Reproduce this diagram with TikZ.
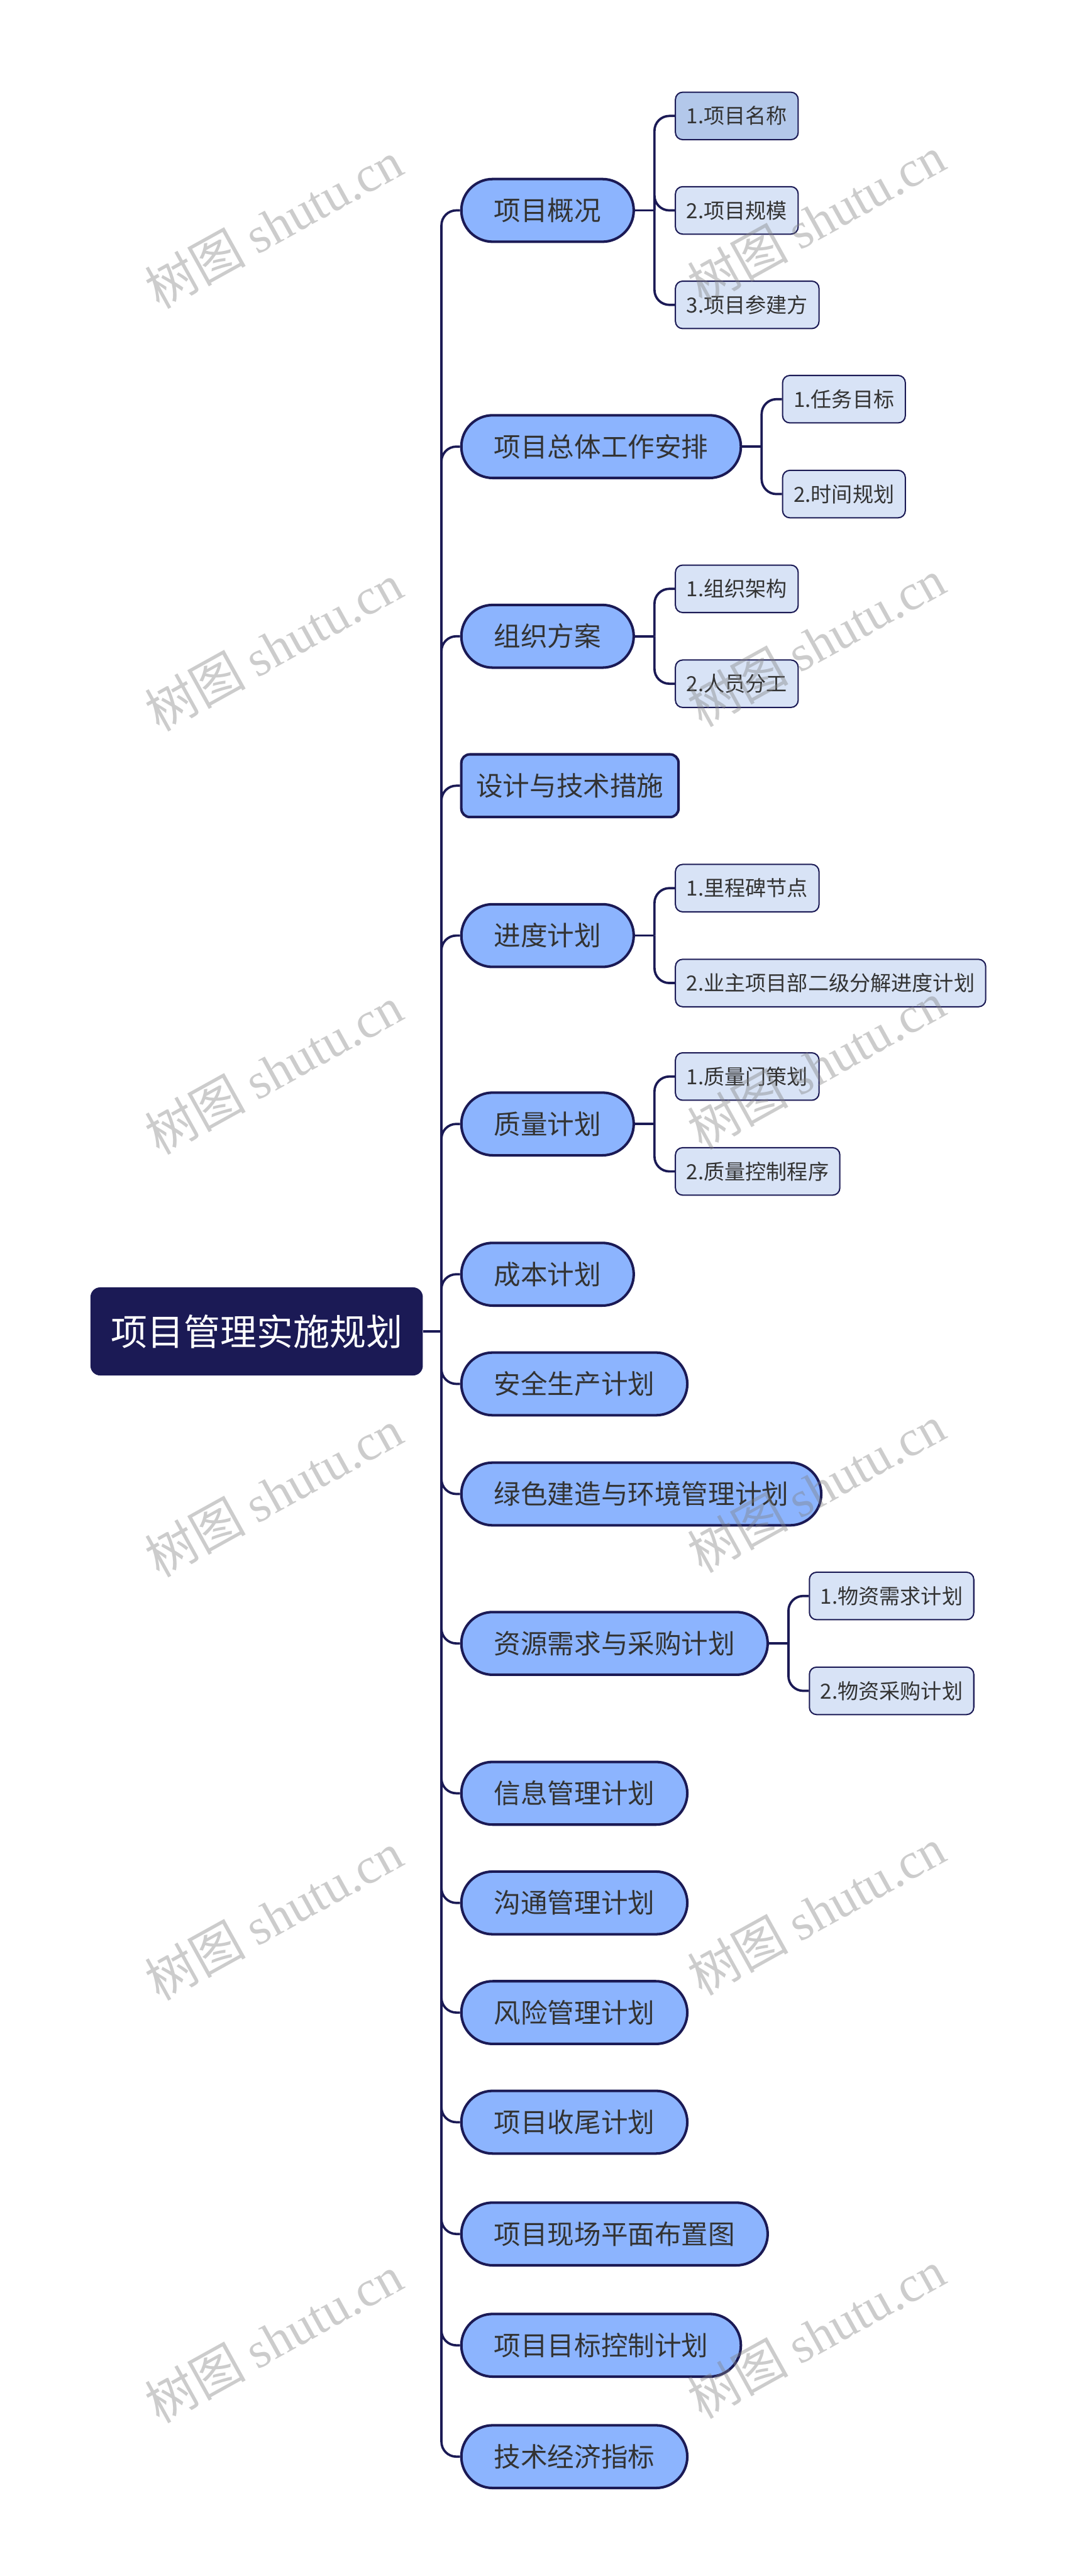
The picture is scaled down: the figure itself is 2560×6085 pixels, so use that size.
\documentclass[tikz,border=0pt]{standalone}
\usepackage{fontspec}
\setmainfont{Noto Sans CJK SC}
\newfontfamily\wmlatin{Liberation Serif}
\usetikzlibrary{positioning}
\definecolor{navy}{HTML}{1B1A55}
\definecolor{topicfill}{HTML}{8CB4FE}
\definecolor{leaffill}{HTML}{D8E3F6}
\definecolor{leafsel}{HTML}{B3C8EA}
\definecolor{txt}{HTML}{333333}

\begin{document}
\begin{tikzpicture}[x=0.01cm,y=-0.01cm]
\useasboundingbox (0,0) rectangle (2560,6085);

\edef\topich{1.48cm}
\edef\leafh{1.12cm}
\tikzstyle{mainbox}=[fill=navy,text=white,rounded corners=.23cm,minimum height=2.08cm,inner xsep=.48cm,anchor=west,font=\fontsize{24.5}{28}\selectfont]
\tikzstyle{topic}=[draw=navy,line width=.6mm,fill=topicfill,text=txt,rounded corners=.74cm,minimum height=\topich,inner xsep=.77cm,anchor=west,font=\fontsize{18}{22}\selectfont]
\tikzstyle{topicbox}=[topic,rounded corners=.2cm,inner xsep=.35cm]
\tikzstyle{leaf}=[draw=navy,line width=.3mm,fill=leaffill,text=txt,rounded corners=.17cm,minimum height=\leafh,inner xsep=.26cm,font=\fontsize{14}{17}\selectfont]
\tikzstyle{link}=[draw=navy,line width=.55mm,rounded corners=.35cm]
\tikzstyle{wmark}=[text=black!50,text opacity=.4,rotate=29,font=\fontsize{34}{40}\selectfont]

%% root
\node [mainbox] (plan) at (213,3145) {项目管理实施规划};

%% main branches
\node [topic] (gk) at (1087,497) {项目概况};
\node [topic] (zt) at (1087,1055) {项目总体工作安排};
\node [topic] (zz) at (1087,1503) {组织方案};
\node [topicbox] (sj) at (1087,1856) {设计与技术措施};
\node [topic] (jd) at (1087,2210) {进度计划};
\node [topic] (zl) at (1087,2655) {质量计划};
\node [topic] (cb) at (1087,3010) {成本计划};
\node [topic] (aq) at (1087,3269) {安全生产计划};
\node [topic] (lv) at (1087,3529) {绿色建造与环境管理计划};
\node [topic] (zy) at (1087,3882) {资源需求与采购计划};
\node [topic] (xx) at (1087,4236) {信息管理计划};
\node [topic] (gt) at (1087,4495) {沟通管理计划};
\node [topic] (fx) at (1087,4754) {风险管理计划};
\node [topic] (sw) at (1087,5013) {项目收尾计划};
\node [topic] (xc) at (1087,5277) {项目现场平面布置图};
\node [topic] (mb) at (1087,5540) {项目目标控制计划};
\node [topic] (jj) at (1087,5803) {技术经济指标};

%% sub items
\node [leaf,fill=leafsel,right=.94cm of gk,yshift=2.23cm] (gk1) {1.项目名称};
\node [leaf,right=.94cm of gk] (gk2) {2.项目规模};
\node [leaf,right=.94cm of gk,yshift=-2.23cm] (gk3) {3.项目参建方};
\node [leaf,right=.94cm of zt,yshift=1.12cm] (zt1) {1.任务目标};
\node [leaf,right=.94cm of zt,yshift=-1.12cm] (zt2) {2.时间规划};
\node [leaf,right=.94cm of zz,yshift=1.12cm] (zz1) {1.组织架构};
\node [leaf,right=.94cm of zz,yshift=-1.12cm] (zz2) {2.人员分工};
\node [leaf,right=.94cm of jd,yshift=1.12cm] (jd1) {1.里程碑节点};
\node [leaf,right=.94cm of jd,yshift=-1.12cm] (jd2) {2.业主项目部二级分解进度计划};
\node [leaf,right=.94cm of zl,yshift=1.12cm] (zl1) {1.质量门策划};
\node [leaf,right=.94cm of zl,yshift=-1.12cm] (zl2) {2.质量控制程序};
\node [leaf,right=.94cm of zy,yshift=1.12cm] (zy1) {1.物资需求计划};
\node [leaf,right=.94cm of zy,yshift=-1.12cm] (zy2) {2.物资采购计划};

%% connectors
\coordinate (hub) at (1043,3145);
\draw [link] (plan.east) -- (hub);
\foreach \t in {gk,zt,zz,sj,jd,zl,cb,aq,lv,zy,xx,gt,fx,sw,xc,mb,jj}
    \draw [link] (hub) |- (\t.west);
\foreach \p/\kids in {gk/{gk1,gk2,gk3},zt/{zt1,zt2},zz/{zz1,zz2},jd/{jd1,jd2},zl/{zl1,zl2},zy/{zy1,zy2}} {
    \coordinate (\p-h) at ([xshift=.46cm]\p.east);
    \draw [link] (\p.east) -- (\p-h);
    \foreach \c in \kids
        \draw [link] (\p-h) |- (\c.west);
}

%% watermark
\foreach \i in {0,...,5} {
    \node [wmark] (wl\i) at (646,530+999*\i) {树图 {\wmlatin shutu.cn}};
    \node [wmark] (wr\i) at (1928,519+999*\i) {树图 {\wmlatin shutu.cn}};
}
\end{tikzpicture}
\end{document}
